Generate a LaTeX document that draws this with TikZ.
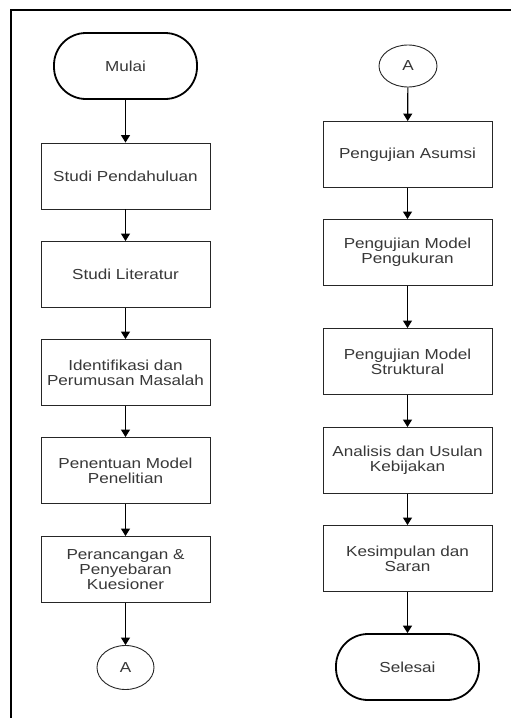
\documentclass[tikz,border=0pt]{standalone}
\usepackage{fontspec}
\setmainfont{Liberation Sans}[FakeStretch=1.18]
\usetikzlibrary{arrows.meta}
\definecolor{txt}{HTML}{383838}
\tikzset{
  lbl/.style={text=txt, font=\fontsize{14.5}{15.3}\selectfont},
  proc/.style={lbl, draw=black!85, line width=0.9pt, minimum width=169pt, minimum height=66pt, inner sep=0pt, align=center},
  term/.style={lbl, draw=black, line width=1.8pt, minimum width=143pt, minimum height=66pt, rounded corners=32pt, inner sep=0pt},
  conn/.style={lbl, draw=black!85, line width=0.9pt, ellipse, minimum width=57pt, minimum height=44pt, inner sep=0pt},
  flow/.style={-{Triangle[width=9pt,length=7.5pt]}, line width=1.2pt, black},
  frameline/.style={line width=1.8pt, black}
}
\usetikzlibrary{shapes.geometric}
\begin{document}
\begin{tikzpicture}[x=1pt,y=-1pt]
\useasboundingbox (0,0) rectangle (511,718);
\fill[white] (0,0) rectangle (511,718);
\coordinate (fbl) at (11,720);
\coordinate (ftl) at (11,10);
\coordinate (ftr) at (513,10);
\draw[frameline] (fbl) -- (ftl) -- (ftr);
% left column
\node[term] (mulai) at (125.5,66) {Mulai};
\node[proc] (s1) at (125.5,176) {Studi Pendahuluan};
\node[proc] (s2) at (125.5,274.5) {Studi Literatur};
\node[proc] (s3) at (125.5,372.5) {Identifikasi dan\\Perumusan Masalah};
\node[proc] (s4) at (125.5,470.5) {Penentuan Model\\Penelitian};
\node[proc] (s5) at (125.5,569.5) {Perancangan \&\\Penyebaran\\Kuesioner};
\node[conn] (a1) at (125.5,667.5) {A};
% right column
\node[conn, minimum width=58pt, minimum height=42pt] (a2) at (408,66) {A};
\node[proc] (r1) at (407.5,154.5) {Pengujian Asumsi};
\node[proc] (r2) at (407.5,252.5) {Pengujian Model\\Pengukuran};
\node[proc] (r3) at (407.5,361.5) {Pengujian Model\\Struktural};
\node[proc] (r4) at (407.5,460.5) {Analisis dan Usulan\\Kebijakan};
\node[proc] (r5) at (407.5,558.5) {Kesimpulan dan\\Saran};
\node[term] (selesai) at (407.5,667) {Selesai};
% arrows
\draw[flow] (mulai) -- (s1);
\draw[flow] (s1) -- (s2);
\draw[flow] (s2) -- (s3);
\draw[flow] (s3) -- (s4);
\draw[flow] (s4) -- (s5);
\draw[flow] (s5) -- (a1);
\draw[flow] (a2) -- (r1);
\draw[flow] (r1) -- (r2);
\draw[flow] (r2) -- (r3);
\draw[flow] (r3) -- (r4);
\draw[flow] (r4) -- (r5);
\draw[flow] (r5) -- (selesai);
\end{tikzpicture}
\end{document}
